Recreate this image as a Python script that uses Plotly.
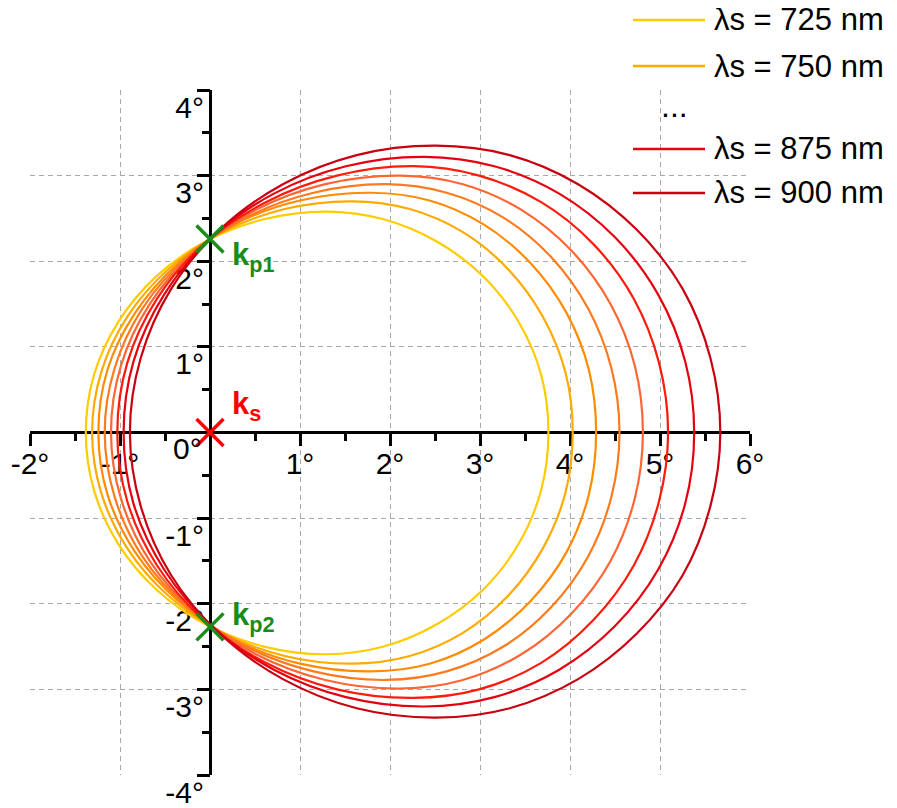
import plotly.graph_objects as go

# ---------------- data ----------------
wavelengths = [725, 750, 775, 800, 825, 850, 875, 900]
colors = ["#FFCC00", "#FFAA00", "#FF8C00", "#FF7A1E", "#FF6633", "#FF1A0A", "#E6000F", "#C8000F"]

x_725 = [3.76, 3.68, 3.43, 3.04, 2.52, 1.93, 1.29, 0.60, -0.05, -0.60, -1.02, -1.29, -1.38,
         -1.29, -1.02, -0.60, -0.05, 0.60, 1.29, 1.93, 2.52, 3.04, 3.43, 3.68, 3.76]
y_725 = [0.00, 0.67, 1.29, 1.82, 2.23, 2.49, 2.58, 2.49, 2.23, 1.82, 1.29, 0.67, 0.00,
         -0.67, -1.30, -1.83, -2.24, -2.50, -2.59, -2.50, -2.24, -1.83, -1.30, -0.67, 0.00]

x_750 = [4.03, 3.95, 3.70, 3.31, 2.81, 2.22, 1.58, 0.83, 0.14, -0.46, -0.92, -1.21, -1.31,
         -1.21, -0.92, -0.46, 0.14, 0.83, 1.58, 2.22, 2.81, 3.31, 3.70, 3.95, 4.03]
y_750 = [0.00, 0.70, 1.35, 1.91, 2.34, 2.61, 2.70, 2.61, 2.34, 1.91, 1.35, 0.70, 0.00,
         -0.70, -1.35, -1.91, -2.34, -2.61, -2.70, -2.61, -2.34, -1.91, -1.35, -0.70, 0.00]

x_775 = [4.29, 4.21, 3.96, 3.56, 3.04, 2.44, 1.79, 1.00, 0.27, -0.35, -0.83, -1.14, -1.24,
         -1.14, -0.83, -0.35, 0.27, 1.00, 1.79, 2.44, 3.04, 3.56, 3.96, 4.21, 4.29]
y_775 = [0.00, 0.73, 1.40, 1.98, 2.43, 2.71, 2.80, 2.71, 2.43, 1.98, 1.40, 0.73, 0.00,
         -0.72, -1.40, -1.97, -2.42, -2.70, -2.79, -2.70, -2.42, -1.97, -1.40, -0.72, 0.00]

x_800 = [4.55, 4.46, 4.20, 3.79, 3.26, 2.63, 1.96, 1.15, 0.40, -0.25, -0.75, -1.06, -1.17,
         -1.06, -0.75, -0.25, 0.40, 1.15, 1.96, 2.63, 3.26, 3.79, 4.20, 4.46, 4.55]
y_800 = [0.00, 0.75, 1.45, 2.05, 2.51, 2.80, 2.90, 2.80, 2.51, 2.05, 1.45, 0.75, 0.00,
         -0.75, -1.45, -2.04, -2.50, -2.79, -2.89, -2.79, -2.50, -2.04, -1.45, -0.75, 0.00]

x_825 = [4.81, 4.72, 4.45, 4.02, 3.46, 2.81, 2.11, 1.28, 0.51, -0.16, -0.67, -0.99, -1.10,
         -0.99, -0.67, -0.16, 0.51, 1.28, 2.11, 2.81, 3.46, 4.02, 4.45, 4.72, 4.81]
y_825 = [0.00, 0.78, 1.50, 2.12, 2.60, 2.90, 3.00, 2.90, 2.60, 2.12, 1.50, 0.78, 0.00,
         -0.77, -1.50, -2.11, -2.59, -2.89, -2.99, -2.89, -2.59, -2.11, -1.50, -0.77, 0.00]

x_850 = [5.09, 4.99, 4.71, 4.26, 3.68, 2.99, 2.26, 1.41, 0.62, -0.07, -0.59, -0.92, -1.03,
         -0.92, -0.59, -0.07, 0.62, 1.41, 2.26, 2.99, 3.68, 4.26, 4.71, 4.99, 5.09]
y_850 = [0.00, 0.81, 1.56, 2.20, 2.69, 3.00, 3.11, 3.00, 2.69, 2.20, 1.56, 0.81, 0.00,
         -0.80, -1.55, -2.19, -2.69, -3.00, -3.10, -3.00, -2.69, -2.19, -1.55, -0.80, 0.00]

x_875 = [5.38, 5.28, 4.98, 4.50, 3.88, 3.16, 2.38, 1.51, 0.71, 0.02, -0.51, -0.85, -0.96,
         -0.85, -0.51, 0.02, 0.71, 1.51, 2.38, 3.16, 3.88, 4.50, 4.98, 5.28, 5.38]
y_875 = [0.00, 0.83, 1.61, 2.28, 2.79, 3.11, 3.22, 3.11, 2.79, 2.28, 1.61, 0.83, 0.00,
         -0.83, -1.60, -2.26, -2.77, -3.09, -3.20, -3.09, -2.77, -2.26, -1.60, -0.83, 0.00]

x_900 = [5.67, 5.56, 5.25, 4.74, 4.09, 3.33, 2.51, 1.63, 0.81, 0.11, -0.43, -0.77, -0.89,
         -0.77, -0.43, 0.11, 0.81, 1.63, 2.51, 3.33, 4.09, 4.74, 5.25, 5.56, 5.67]
y_900 = [0.00, 0.87, 1.68, 2.37, 2.90, 3.24, 3.35, 3.24, 2.90, 2.37, 1.68, 0.87, 0.00,
         -0.86, -1.67, -2.35, -2.88, -3.22, -3.33, -3.22, -2.88, -2.35, -1.67, -0.86, 0.00]

curves_x = [x_725, x_750, x_775, x_800, x_825, x_850, x_875, x_900]
curves_y = [y_725, y_750, y_775, y_800, y_825, y_850, y_875, y_900]

ks_x = [0.0]
ks_y = [0.0]
kp_x = [0.0, 0.0]
kp_y = [2.26, -2.27]

x_tick_vals = [-2, -1, 1, 2, 3, 4, 5, 6]
x_tick_text = ["-2°", "-1°", "1°", "2°", "3°", "4°", "5°", "6°"]
x_minor_vals = [-1.5, -0.5, 0.5, 1.5, 2.5, 3.5, 4.5, 5.5]
y_tick_vals = [-4, -3, -2, -1, 1, 2, 3, 4]
y_tick_text = ["-4°", "-3°", "-2°", "-1°", "1°", "2°", "3°", "4°"]
y_minor_vals = [-3.5, -2.5, -1.5, -0.5, 0.5, 1.5, 2.5, 3.5]

legend_index = [0, 1, 6, 7]          # which curves are listed in the legend
legend_row_px = [20, 66, 149, 193]   # legend row positions (window pixels)

# ---------------- layout geometry ----------------
BODY = 8                     # default page margin around the figure
W, H = 897 - BODY, 808 - BODY
ML, MR, MT, MB = 30 - BODY, 147, 90 - BODY, 33
PW, PH = W - ML - MR, H - MT - MB
FONT = "Liberation Sans, Arial, sans-serif"
GREEN = "#1A8C1A"
RED = "#FF0000"


def px_to_paper_x(px):
    return (px - BODY - ML) / PW


def px_to_paper_y(py):
    return (H - MB - (py - BODY)) / PH


fig = go.Figure()

for i, wl in enumerate(wavelengths):
    fig.add_trace(go.Scatter(
        x=curves_x[i], y=curves_y[i], mode="lines",
        line=dict(color=colors[i], width=2.2, shape="spline", smoothing=1.0),
        name=f"λs = {wl} nm", showlegend=False, hoverinfo="skip"))

fig.add_trace(go.Scatter(
    x=ks_x, y=ks_y, mode="markers", showlegend=False, hoverinfo="skip",
    marker=dict(symbol="x-thin", size=27, color=RED, line=dict(width=3.5, color=RED))))
fig.add_trace(go.Scatter(
    x=kp_x, y=kp_y, mode="markers", showlegend=False, hoverinfo="skip",
    marker=dict(symbol="x-thin", size=27, color=GREEN, line=dict(width=3.5, color=GREEN))))

axis_common = dict(
    showline=False, showgrid=True, gridcolor="#A8A8A8", gridwidth=1.2, griddash="5px,4px",
    zeroline=True, zerolinecolor="black", zerolinewidth=3,
    tickmode="array", ticks="outside", tickwidth=2.5, tickcolor="black",
    tickfont=dict(size=30, color="black", family=FONT), ticklabeloverflow="allow",
    automargin=False, fixedrange=True, layer="below traces",
)

fig.update_layout(
    width=W, height=H,
    margin=dict(l=ML, r=MR, t=MT, b=MB, pad=0),
    paper_bgcolor="white", plot_bgcolor="white",
    showlegend=False,
    font=dict(family=FONT, color="black"),
    xaxis=dict(axis_common, range=[-2, 6], domain=[0, 1], anchor="free", position=0.5,
               tickvals=x_tick_vals, ticktext=x_tick_text, ticklen=12, ticklabelstandoff=-8,
               minor=dict(tickmode="array", tickvals=x_minor_vals, ticks="outside",
                          ticklen=7, tickwidth=2.5, tickcolor="black", showgrid=False)),
    yaxis=dict(axis_common, range=[-4, 4], domain=[0, 1], anchor="free", position=0.25,
               tickvals=y_tick_vals, ticktext=y_tick_text, ticklen=13,
               ticklabelshift=17, ticklabelstandoff=-13,
               minor=dict(tickmode="array", tickvals=y_minor_vals, ticks="outside",
                          ticklen=8, tickwidth=2.5, tickcolor="black", showgrid=False)),
)

annotations = []
# origin label
annotations.append(dict(x=0, y=0, xref="x", yref="y", text="0°", showarrow=False,
                        xanchor="right", yanchor="top", xshift=-6, yshift=3,
                        font=dict(size=30, color="black", family=FONT)))
# point labels
annotations.append(dict(x=kp_x[0], y=kp_y[0], xref="x", yref="y", text="<b>k<sub>p1</sub></b>",
                        showarrow=False, xanchor="left", yanchor="middle", xshift=20, yshift=-18,
                        font=dict(size=31, color=GREEN, family=FONT)))
annotations.append(dict(x=kp_x[1], y=kp_y[1], xref="x", yref="y", text="<b>k<sub>p2</sub></b>",
                        showarrow=False, xanchor="left", yanchor="middle", xshift=20, yshift=10,
                        font=dict(size=31, color=GREEN, family=FONT)))
annotations.append(dict(x=ks_x[0], y=ks_y[0], xref="x", yref="y", text="<b>k<sub>s</sub></b>",
                        showarrow=False, xanchor="left", yanchor="middle", xshift=20, yshift=27,
                        font=dict(size=31, color=RED, family=FONT)))

# legend (drawn as shapes + text in page coordinates)
shapes = []
for idx, row in zip(legend_index, legend_row_px):
    yp = px_to_paper_y(row)
    shapes.append(dict(type="line", xref="paper", yref="paper",
                       x0=px_to_paper_x(633), x1=px_to_paper_x(705), y0=yp, y1=yp,
                       line=dict(color=colors[idx], width=2.5), layer="above"))
    annotations.append(dict(x=px_to_paper_x(712), y=yp, xref="paper", yref="paper",
                            text=f"λs = {wavelengths[idx]} nm", showarrow=False,
                            xanchor="left", yanchor="middle",
                            font=dict(size=31, color="black", family=FONT)))
annotations.append(dict(x=px_to_paper_x(674), y=px_to_paper_y(106), xref="paper", yref="paper",
                        text="...", showarrow=False, xanchor="center", yanchor="middle",
                        font=dict(size=32, color="black", family=FONT)))

fig.update_layout(annotations=annotations, shapes=shapes)

fig.write_html("out.html")
